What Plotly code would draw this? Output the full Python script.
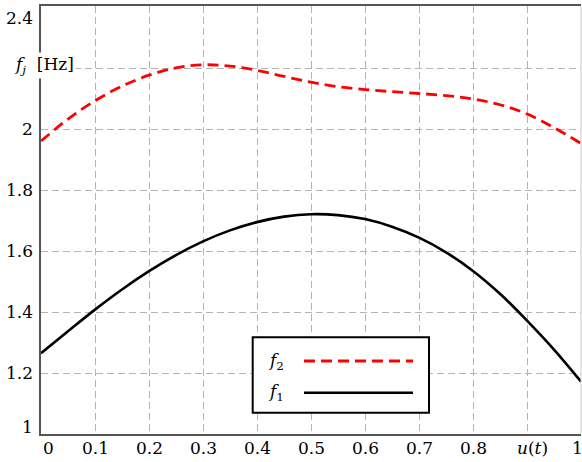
import plotly.graph_objects as go

# ---- data ----
u_vals = [0, .05, .1, .15, .2, .25, .3, .35, .4, .45, .5, .55, .6, .65, .7, .75, .8, .85, .9, .95, 1]
f2_vals = [1.961, 2.033, 2.093, 2.141, 2.177, 2.201, 2.211, 2.207, 2.193, 2.173, 2.154,
           2.139, 2.130, 2.123, 2.117, 2.110, 2.099, 2.080, 2.050, 2.005, 1.953]
f1_vals = [1.265, 1.337, 1.408, 1.474, 1.534, 1.587, 1.632, 1.668, 1.695, 1.713, 1.721,
           1.718, 1.705, 1.680, 1.644, 1.596, 1.535, 1.460, 1.372, 1.277, 1.172]

x_tick_vals = [0, 0.1, 0.2, 0.3, 0.4, 0.5, 0.6, 0.7, 0.8, 0.9, 1]
x_tick_text = ["0", "0.1", "0.2", "0.3", "0.4", "0.5", "0.6", "0.7", "0.8", "<i>u</i>(<i>t</i>)", "1"]
y_tick_vals = [1, 1.2, 1.4, 1.6, 1.8, 2, 2.4]
y_tick_text = ["1", "1.2", "1.4", "1.6", "1.8", "2", "2.4"]
y_label_text = "<i>f</i><sub><i>j</i></sub>&nbsp;&nbsp;[Hz]"
legend_names = ["<i>f</i><sub>2</sub>", "<i>f</i><sub>1</sub>"]

W, H = 582, 462
L, R, T, B = 41, 1, 6, 28
PW, PH = W - L - R, H - T - B
FONT = "DejaVu Serif"
FS = 17


def px(xp):
    return (xp - L) / PW


def py(yp):
    return (H - B - yp) / PH


fig = go.Figure()
fig.add_trace(go.Scatter(x=u_vals, y=f2_vals, mode="lines", name="f2",
                         line=dict(color="#ff0000", width=2.8, dash="11px,6px", shape="spline"),
                         showlegend=False))
fig.add_trace(go.Scatter(x=u_vals, y=f1_vals, mode="lines", name="f1",
                         line=dict(color="#000000", width=2.6, shape="spline"),
                         showlegend=False))

grid_color = "#b4b4b4"
fig.update_xaxes(range=[0, 1], tickvals=x_tick_vals[1:-1], showticklabels=False,
                 showgrid=True, gridcolor=grid_color, gridwidth=1, griddash="7px,4px",
                 zeroline=False, showline=True, linecolor="#555555", linewidth=1.5,
                 mirror=True, ticks="")
fig.update_yaxes(range=[1, 2.404], tickvals=[1.2, 1.4, 1.6, 1.8, 2.0, 2.2], showticklabels=False,
                 showgrid=True, gridcolor=grid_color, gridwidth=1, griddash="7px,4px",
                 zeroline=False, showline=True, linecolor="#555555", linewidth=1.5,
                 ticks="")

shapes = []
# right border (light)
shapes.append(dict(type="line", xref="paper", yref="paper", x0=1, x1=1, y0=0, y1=1,
                   line=dict(color="#cccccc", width=1)))
# legend box
shapes.append(dict(type="rect", xref="paper", yref="paper",
                   x0=px(252.7), x1=px(429), y0=py(412.7), y1=py(337.3),
                   line=dict(color="black", width=2), fillcolor="white", layer="above"))
shapes.append(dict(type="line", xref="paper", yref="paper", x0=px(304), x1=px(413),
                   y0=py(361), y1=py(361), line=dict(color="#ff0000", width=2.8, dash="11px,6px"),
                   layer="above"))
shapes.append(dict(type="line", xref="paper", yref="paper", x0=px(304), x1=px(413),
                   y0=py(392.7), y1=py(392.7), line=dict(color="black", width=2.6),
                   layer="above"))

ann = []
font = dict(family=FONT, size=FS, color="black")
x_shifts = {0: 7, 9: 5, 10: -4}
for i, (v, t) in enumerate(zip(x_tick_vals, x_tick_text)):
    ann.append(dict(x=v, y=py(448), xref="x", yref="paper", text=t, showarrow=False,
                    xanchor="center", yanchor="middle", xshift=x_shifts.get(i, 0), font=font))
y_shifts = {1: 7, 2.4: -11}
for v, t in zip(y_tick_vals, y_tick_text):
    ann.append(dict(x=0, y=v, xref="paper", yref="y", text=t, showarrow=False,
                    xanchor="right", yanchor="middle", xshift=-6, yshift=y_shifts.get(v, 0),
                    font=font))
ann.append(dict(x=px(12), y=2.2, xref="paper", yref="y", text=y_label_text, showarrow=False,
                xanchor="left", yanchor="middle", yshift=3, font=font, bgcolor="white",
                borderpad=1))
for name, yp in zip(legend_names, [361, 392.7]):
    ann.append(dict(x=px(266), y=py(yp), xref="paper", yref="paper", text=name, showarrow=False,
                    xanchor="left", yanchor="middle", font=font))

fig.update_layout(width=W, height=H, margin=dict(l=L, r=R, t=T, b=B),
                  paper_bgcolor="white", plot_bgcolor="white",
                  font=dict(family=FONT, size=FS, color="black"),
                  shapes=shapes, annotations=ann, showlegend=False)

fig.write_html("out.html", config={"displayModeBar": False},
               post_script="document.body.style.margin='0';document.body.style.overflow='hidden';")
